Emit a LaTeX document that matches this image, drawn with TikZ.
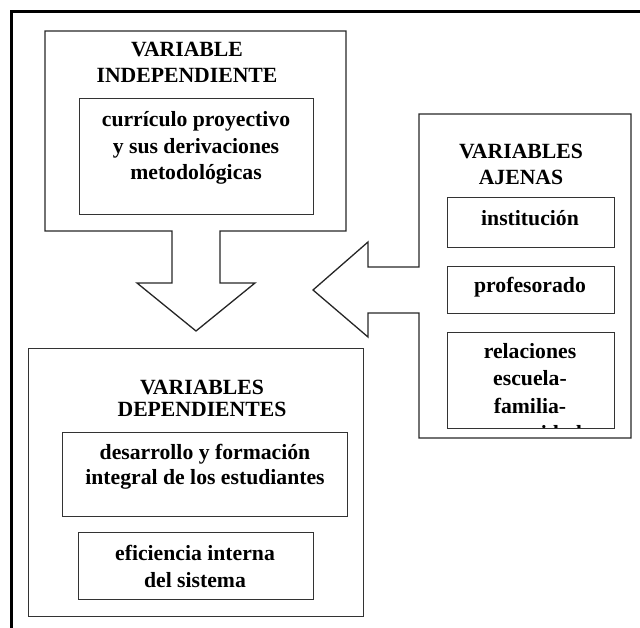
\documentclass[tikz,border=0pt]{standalone}
\usepackage{fontspec}
\setmainfont{Liberation Serif}
\usetikzlibrary{positioning}

\tikzset{
  border/.style={line width=3pt, line join=miter},
  blockarrow/.style={draw=black!85, line width=1.3pt, line join=miter},
  cell/.style={draw=black!80, line width=1.3pt, inner sep=0pt, anchor=north west},
  lbl/.style={inner sep=0pt, align=center, anchor=base, font=\bfseries\fontsize{21.7}{26.5}\selectfont},
}

\begin{document}
\begin{tikzpicture}[x=1pt, y=-1pt]
\useasboundingbox (0,0) rectangle (640,628);
\draw[border] (11,640) -- (11,12) -- (650,12);

\draw[blockarrow] (45,31) -- (346,31) -- (346,231) -- (220,231) -- (220,283) -- (255,283) -- (196,331) -- (137,283) -- (172,283) -- (172,231) -- (45,231) -- cycle;
\node[lbl, font=\bfseries\fontsize{21.7}{26}\selectfont] (indtitle) at (187,83) {VARIABLE\\INDEPENDIENTE};
\node[cell, minimum width=234pt, minimum height=116pt] (curbox) at (79,98) {};
\node[lbl] (curtxt) at (196,180) {currículo proyectivo\\y sus derivaciones\\metodológicas};

\draw[blockarrow] (419,267) -- (419,114) -- (631,114) -- (631,438) -- (419,438) -- (419,313) -- (368,313) -- (368,337) -- (313,290) -- (368,242) -- (368,267) -- cycle;
\node[lbl] (ajtitle) at (521,185) {VARIABLES\\AJENAS};
\node[cell, minimum width=167pt, minimum height=50pt] (instbox) at (447,197) {};
\node[lbl] (insttxt) at (530,226) {institución};
\node[cell, minimum width=167pt, minimum height=47pt] (profbox) at (447,266) {};
\node[lbl] (proftxt) at (530,293) {profesorado};
\node[cell, minimum width=167pt, minimum height=96pt] (relbox) at (447,332) {};
\begin{scope}
\clip ([shift={(1pt,-1pt)}]relbox.north west) rectangle ([shift={(-1pt,2pt)}]relbox.south east);
\node[lbl, font=\bfseries\fontsize{21.7}{27.5}\selectfont] (reltxt) at (530,440.5) {relaciones\\escuela-\\familia-\\comunidad};
\end{scope}

\node[cell, minimum width=335pt, minimum height=268pt] (depbox) at (28,348) {};
\node[lbl, font=\bfseries\fontsize{21.7}{22}\selectfont] (deptitle) at (202,416) {VARIABLES\\DEPENDIENTES};
\node[cell, minimum width=285pt, minimum height=84pt] (desbox) at (62,432) {};
\node[lbl, font=\bfseries\fontsize{21.7}{25.5}\selectfont] (destxt) at (205,484.5) {desarrollo y formación\\integral de los estudiantes};
\node[cell, minimum width=235pt, minimum height=67pt] (efibox) at (78,532) {};
\node[lbl, font=\bfseries\fontsize{21.7}{27}\selectfont] (efitxt) at (195,587) {eficiencia interna\\del sistema};
\end{tikzpicture}
\end{document}
